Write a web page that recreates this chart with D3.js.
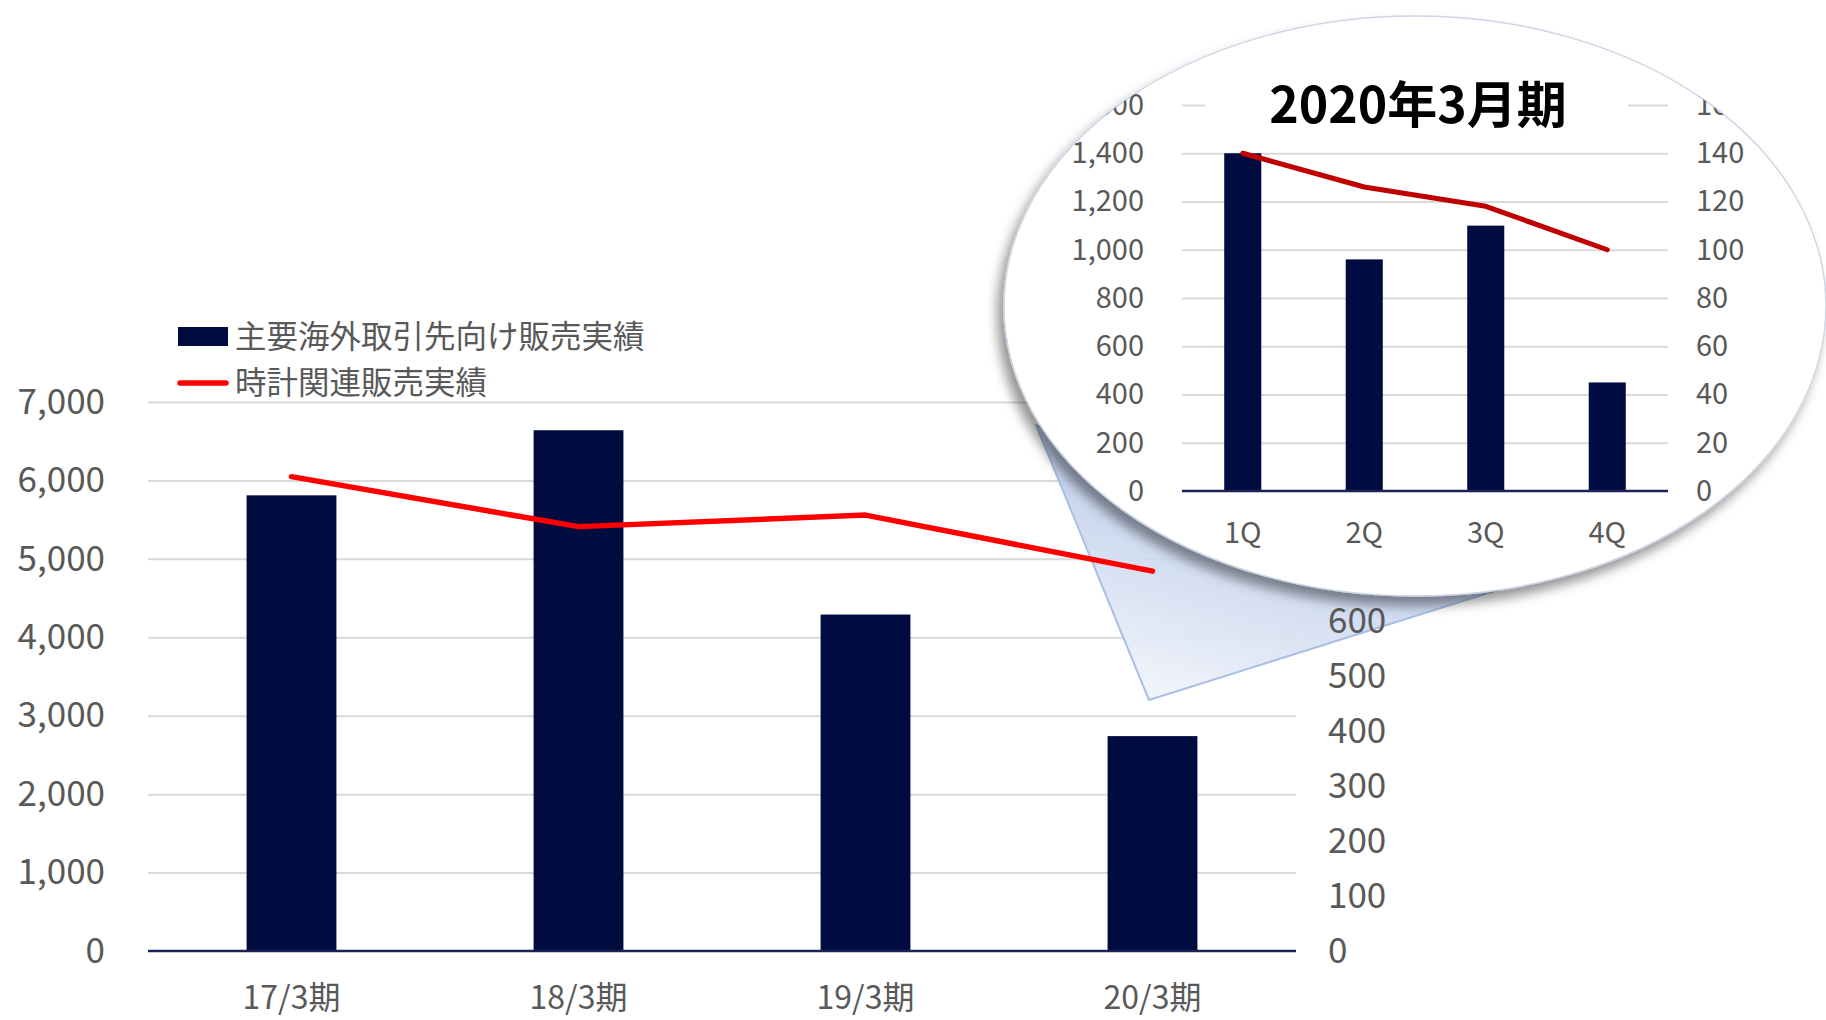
<!DOCTYPE html>
<html>
<head>
<meta charset="utf-8">
<script src="https://cdn.jsdelivr.net/npm/d3@7"></script>
<style>
  html, body { margin: 0; padding: 0; background: #fff; }
  svg { display: block; }
  text { font-family: "Noto Sans CJK JP", "Noto Sans", sans-serif; }
</style>
</head>
<body>
<svg id="chart" width="1826" height="1020"></svg>
<script>
// main chart data
var categories = ["17/3期", "18/3期", "19/3期", "20/3期"];
var overseasSales = [5810, 6640, 4290, 2740];
var watchSales = [864, 773, 794, 692];
var leftTicks = [0, 1000, 2000, 3000, 4000, 5000, 6000, 7000];
// only the right ticks not hidden by the magnifier (axis runs to 1000)
var rightTicks = [0, 100, 200, 300, 400, 500, 600];
var legendLabels = ["主要海外取引先向け販売実績", "時計関連販売実績"];

// inset (2020/3 quarters)
var insetTitle = "2020年3月期";
var quarters = ["1Q", "2Q", "3Q", "4Q"];
var qOverseas = [1400, 960, 1100, 450];
var qWatch = [140, 126, 118, 100];
var qLeftTicks = [0, 200, 400, 600, 800, 1000, 1200, 1400, 1600];
var qRightTicks = [0, 20, 40, 60, 80, 100, 120, 140, 160];

var NAVY = "#000b3f";
var GRID = "#d9d9d9";
var LABEL = "#595959";

var svg = d3.select("#chart");
var defs = svg.append("defs");

//////// main chart
var MARGINS = { left: 148, right: 1296, top: 402, bottom: 951 };

var xScale = d3.scaleBand().domain(categories)
	.range([MARGINS.left, MARGINS.right])
	.paddingInner(0.687).paddingOuter(0.3435);
var yLeft = d3.scaleLinear().domain([0, 7000]).range([MARGINS.bottom, MARGINS.top]);
var yRight = d3.scaleLinear().domain([0, 1000]).range([MARGINS.bottom, MARGINS.top]);

// gridlines
svg.append("g")
	.attr("transform", "translate(" + MARGINS.left + ",0)")
	.call(d3.axisLeft(yLeft).tickValues(leftTicks.slice(1)).tickSize(-(MARGINS.right - MARGINS.left)).tickFormat(""))
	.call(function(g){ g.select(".domain").remove(); })
	.selectAll("line").attr("stroke", GRID).attr("stroke-width", 2);

// callout triangle from the magnifier
var grad = defs.append("linearGradient").attr("id", "calloutGrad")
	.attr("x1", "0.7").attr("y1", "0").attr("x2", "0.2").attr("y2", "1");
grad.append("stop").attr("offset", "0").attr("stop-color", "#9fb6e0");
grad.append("stop").attr("offset", "1").attr("stop-color", "#f2f5fb");

var callout = [[1149, 700], [1036, 425], [1520, 583]];
svg.append("path")
	.attr("d", d3.line()(callout) + "Z")
	.attr("fill", "url(#calloutGrad)")
	.attr("fill-opacity", 0.9)
	.attr("stroke", "#a9bfe6")
	.attr("stroke-width", 2);

// bars
svg.append("g").selectAll("rect")
	.data(overseasSales)
	.enter().append("rect")
	.attr("x", function(d, i){ return xScale(categories[i]); })
	.attr("y", function(d){ return yLeft(d); })
	.attr("width", xScale.bandwidth())
	.attr("height", function(d){ return yLeft(0) - yLeft(d); })
	.attr("fill", NAVY);

// baseline
svg.append("line")
	.attr("x1", MARGINS.left).attr("x2", MARGINS.right)
	.attr("y1", yLeft(0)).attr("y2", yLeft(0))
	.attr("stroke", "#1b2356").attr("stroke-width", 2.5);

// red line
var mainLine = d3.line()
	.x(function(d, i){ return xScale(categories[i]) + xScale.bandwidth() / 2; })
	.y(function(d){ return yRight(d); });
svg.append("path")
	.attr("d", mainLine(watchSales))
	.attr("fill", "none")
	.attr("stroke", "#ff0000")
	.attr("stroke-width", 5.5)
	.attr("stroke-linecap", "round")
	.attr("stroke-linejoin", "round");

// axes labels
var leftAxis = svg.append("g")
	.attr("transform", "translate(105,0)")
	.call(d3.axisLeft(yLeft).tickValues(leftTicks).tickSize(0).tickPadding(0).tickFormat(d3.format(",")));
leftAxis.select(".domain").remove();
leftAxis.selectAll("text").attr("font-size", 35).attr("fill", LABEL)
	.style("font-family", "'Noto Sans CJK JP', sans-serif");

var rightAxis = svg.append("g")
	.attr("transform", "translate(1328,0)")
	.call(d3.axisRight(yRight).tickValues(rightTicks).tickSize(0).tickPadding(0).tickFormat(d3.format(",")));
rightAxis.select(".domain").remove();
rightAxis.selectAll("text").attr("font-size", 35).attr("fill", LABEL)
	.style("font-family", "'Noto Sans CJK JP', sans-serif");

var bottomAxis = svg.append("g")
	.attr("transform", "translate(0,998)")
	.call(d3.axisBottom(xScale).tickSize(0).tickPadding(0));
bottomAxis.select(".domain").remove();
bottomAxis.selectAll("text").attr("font-size", 32).attr("fill", LABEL)
	.attr("dy", "0.35em")
	.style("font-family", "'Noto Sans CJK JP', sans-serif");

// legend
var legende = svg.append("g");
legende.append("rect").attr("x", 178).attr("y", 327).attr("width", 50).attr("height", 19).attr("fill", NAVY);
legende.append("line").attr("x1", 180).attr("x2", 226).attr("y1", 383).attr("y2", 383)
	.attr("stroke", "#ff0000").attr("stroke-width", 5.5).attr("stroke-linecap", "round");
legendLabels.forEach(function(lbl, i){
	legende.append("text")
		.attr("x", 235).attr("y", 337 + i * 46)
		.attr("dy", "0.35em")
		.attr("font-size", 31.5).attr("fill", LABEL)
		.text(lbl);
});

//////// magnifier
var ELL = { cx: 1415, cy: 306, rx: 411, ry: 290 };

var shadow = defs.append("filter").attr("id", "shadow")
	.attr("x", "-20%").attr("y", "-20%").attr("width", "140%").attr("height", "140%");
shadow.append("feDropShadow")
	.attr("dx", -6).attr("dy", 9).attr("stdDeviation", 6)
	.attr("flood-color", "#000").attr("flood-opacity", 0.42);

defs.append("clipPath").attr("id", "ellClip")
	.append("ellipse")
	.attr("cx", ELL.cx).attr("cy", ELL.cy).attr("rx", ELL.rx).attr("ry", ELL.ry);

svg.append("ellipse")
	.attr("cx", ELL.cx).attr("cy", ELL.cy).attr("rx", ELL.rx).attr("ry", ELL.ry)
	.attr("fill", "#fff")
	.attr("stroke", "#cdd5e6").attr("stroke-width", 1.5)
	.attr("filter", "url(#shadow)");

var inset = svg.append("g").attr("clip-path", "url(#ellClip)");

var IN = { left: 1182, right: 1668, top: 105, bottom: 491 };
var qx = d3.scaleBand().domain(quarters).range([IN.left, IN.right])
	.paddingInner(0.695).paddingOuter(0.3475);
var qyLeft = d3.scaleLinear().domain([0, 1600]).range([IN.bottom, IN.top]);
var qyRight = d3.scaleLinear().domain([0, 160]).range([IN.bottom, IN.top]);

inset.append("g")
	.attr("transform", "translate(" + IN.left + ",0)")
	.call(d3.axisLeft(qyLeft).tickValues(qLeftTicks.slice(1)).tickSize(-(IN.right - IN.left)).tickFormat(""))
	.call(function(g){ g.select(".domain").remove(); })
	.selectAll("line").attr("stroke", GRID).attr("stroke-width", 2);

inset.append("g").selectAll("rect")
	.data(qOverseas)
	.enter().append("rect")
	.attr("x", function(d, i){ return qx(quarters[i]); })
	.attr("y", function(d){ return qyLeft(d); })
	.attr("width", qx.bandwidth())
	.attr("height", function(d){ return qyLeft(0) - qyLeft(d); })
	.attr("fill", NAVY);

inset.append("line")
	.attr("x1", IN.left).attr("x2", IN.right)
	.attr("y1", qyLeft(0)).attr("y2", qyLeft(0))
	.attr("stroke", "#1b2356").attr("stroke-width", 2.5);

var qLine = d3.line()
	.x(function(d, i){ return qx(quarters[i]) + qx.bandwidth() / 2; })
	.y(function(d){ return qyRight(d); });
inset.append("path")
	.attr("d", qLine(qWatch))
	.attr("fill", "none")
	.attr("stroke", "#c00000")
	.attr("stroke-width", 5)
	.attr("stroke-linecap", "round")
	.attr("stroke-linejoin", "round");

var qLeftAxis = inset.append("g")
	.attr("transform", "translate(1144,0)")
	.call(d3.axisLeft(qyLeft).tickValues(qLeftTicks).tickSize(0).tickPadding(0).tickFormat(d3.format(",")));
qLeftAxis.select(".domain").remove();
qLeftAxis.selectAll("text").attr("font-size", 29).attr("fill", LABEL)
	.style("font-family", "'Noto Sans CJK JP', sans-serif");

var qRightAxis = inset.append("g")
	.attr("transform", "translate(1696,0)")
	.call(d3.axisRight(qyRight).tickValues(qRightTicks).tickSize(0).tickPadding(0));
qRightAxis.select(".domain").remove();
qRightAxis.selectAll("text").attr("font-size", 29).attr("fill", LABEL)
	.style("font-family", "'Noto Sans CJK JP', sans-serif");

var qBottom = inset.append("g")
	.attr("transform", "translate(0,533)")
	.call(d3.axisBottom(qx).tickSize(0).tickPadding(0));
qBottom.select(".domain").remove();
qBottom.selectAll("text").attr("font-size", 29).attr("fill", LABEL)
	.attr("dy", "0.35em")
	.style("font-family", "'Noto Sans CJK JP', sans-serif");

// title with white backing over the top gridline
inset.append("rect")
	.attr("x", 1205).attr("y", 80).attr("width", 423).attr("height", 50)
	.attr("fill", "#fff");
inset.append("text")
	.attr("x", 1418).attr("y", 105)
	.attr("dy", "0.35em")
	.attr("text-anchor", "middle")
	.attr("font-size", 50).attr("font-weight", 700).attr("fill", "#000")
	.text(insetTitle);
</script>
</body>
</html>
